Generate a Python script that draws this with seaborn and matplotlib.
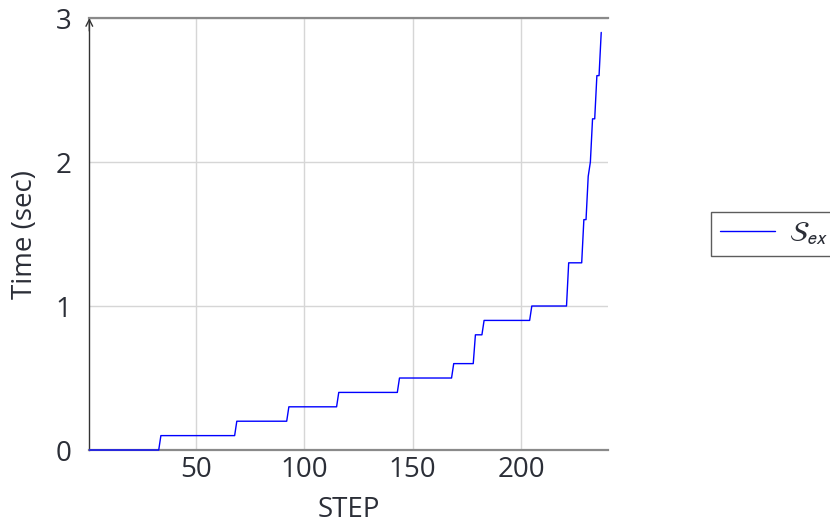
import matplotlib
matplotlib.use("Agg")
import matplotlib.pyplot as plt
import seaborn as sns
import pandas as pd

# Corner points of the step-wise execution time curve
steps = [1, 33, 34, 68, 69, 92, 93, 115, 116, 143, 144, 168, 169, 178, 179,
         182, 183, 204, 205, 221, 222, 228, 229, 230, 231, 232, 233, 234,
         235, 236, 237]
times = [0.0, 0.0, 0.1, 0.1, 0.2, 0.2, 0.3, 0.3, 0.4, 0.4, 0.5, 0.5, 0.6,
         0.6, 0.8, 0.8, 0.9, 0.9, 1.0, 1.0, 1.3, 1.3, 1.6, 1.6, 1.9, 2.0,
         2.3, 2.3, 2.6, 2.6, 2.9]

x_ticks = [50, 100, 150, 200]
y_ticks = [0, 1, 2, 3]
x_label = "STEP"
y_label = "Time (sec)"
series_label = r"$\mathcal{S}_{ex}$"

df = pd.DataFrame({"step": steps, "time": times})

sns.set_theme(style="whitegrid")
text_color = "#2b2e37"
plt.rcParams["font.family"] = ["Open Sans", "DejaVu Sans"]
plt.rcParams["mathtext.fontset"] = "stixsans"

fig = plt.figure(figsize=(8.3, 5.24), dpi=100)
ax = fig.add_axes([0.1076, 0.1412, 0.6246, 0.8244])

sns.lineplot(data=df, x="step", y="time", sort=False, estimator=None,
             color="#0000ff", linewidth=1.0, ax=ax, label=series_label,
             zorder=4, clip_on=False)

ax.set_xlim(1, 240)
ax.set_ylim(0, 3)
ax.set_xticks(x_ticks)
ax.set_yticks(y_ticks)
ax.grid(True, color="#d6d6d6", linewidth=1.0)
ax.set_axisbelow(True)

fs = 20
ax.set_xlabel(x_label, fontsize=fs, color=text_color, labelpad=9)
ax.set_ylabel(y_label, fontsize=fs, color=text_color, labelpad=12)
ax.tick_params(axis="both", labelsize=fs, labelcolor=text_color)
ax.tick_params(axis="x", direction="in", length=4, color="#888888", pad=4)
ax.tick_params(axis="y", direction="out", length=4, color="#aaaaaa", pad=9)

for side in ("bottom", "top"):
    ax.spines[side].set_color("#8a8a8a")
    ax.spines[side].set_linewidth(1.6)
ax.spines["right"].set_visible(False)
ax.spines["left"].set_color("#333333")
ax.spines["left"].set_linewidth(1.0)

# arrow head on top of the vertical axis
ax.annotate("", xy=(0, 1.0), xycoords="axes fraction",
            xytext=(0, 0.97), textcoords="axes fraction",
            arrowprops=dict(arrowstyle="->", color="#333333", lw=1.0,
                            shrinkA=0, shrinkB=0))

leg = ax.legend(loc="center left", bbox_to_anchor=(1.20, 0.5),
                borderaxespad=0, fontsize=fs, frameon=True, fancybox=False,
                handlelength=2.0, handletextpad=0.5, borderpad=0.3)
leg.get_frame().set_edgecolor("#333333")
leg.get_frame().set_linewidth(1.0)
for t in leg.get_texts():
    t.set_color(text_color)

fig.savefig("out.png", dpi=100)
